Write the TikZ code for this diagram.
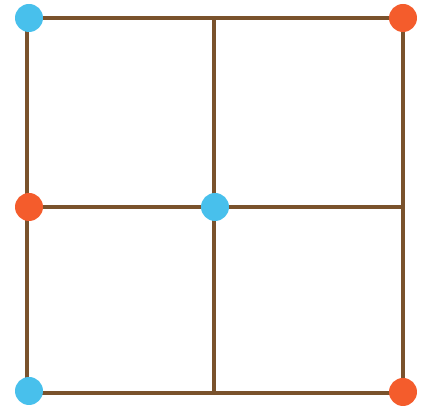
\documentclass[tikz,border=0pt]{standalone}
\usepackage{tikz}
\usetikzlibrary{positioning}
\definecolor{gridbrown}{RGB}{122,82,44}
\definecolor{dotblue}{RGB}{72,192,236}
\definecolor{dotorange}{RGB}{244,92,44}

\begin{document}
\begin{tikzpicture}[x=0.02cm, y=-0.02cm,
  edge/.style={draw=gridbrown, line width=2.6pt},
  dot/.style={circle, inner sep=0pt, minimum size=0.56cm},
  bluedot/.style={dot, fill=dotblue},
  orangedot/.style={dot, fill=dotorange}]
\useasboundingbox (0,0) rectangle (441,411);
\coordinate (tl) at (27,18);
\coordinate (tm) at (214,18);
\coordinate (tr) at (403,18);
\coordinate (ml) at (27,207);
\coordinate (mm) at (214,207);
\coordinate (mr) at (403,207);
\coordinate (bl) at (27,393);
\coordinate (bm) at (214,393);
\coordinate (br) at (403,393);
\draw[edge] (tl) -- (tr) -- (br) -- (bl) -- cycle;
\draw[edge] (tm) -- (bm);
\draw[edge] (ml) -- (mr);
\node[bluedot] (dtl) at (29,18) {};
\node[orangedot] (dtr) at (403,18) {};
\node[orangedot] (dml) at (29,207) {};
\node[bluedot] (dmm) at (215,207) {};
\node[bluedot] (dbl) at (29,391) {};
\node[orangedot] (dbr) at (403,392) {};
\end{tikzpicture}
\end{document}
